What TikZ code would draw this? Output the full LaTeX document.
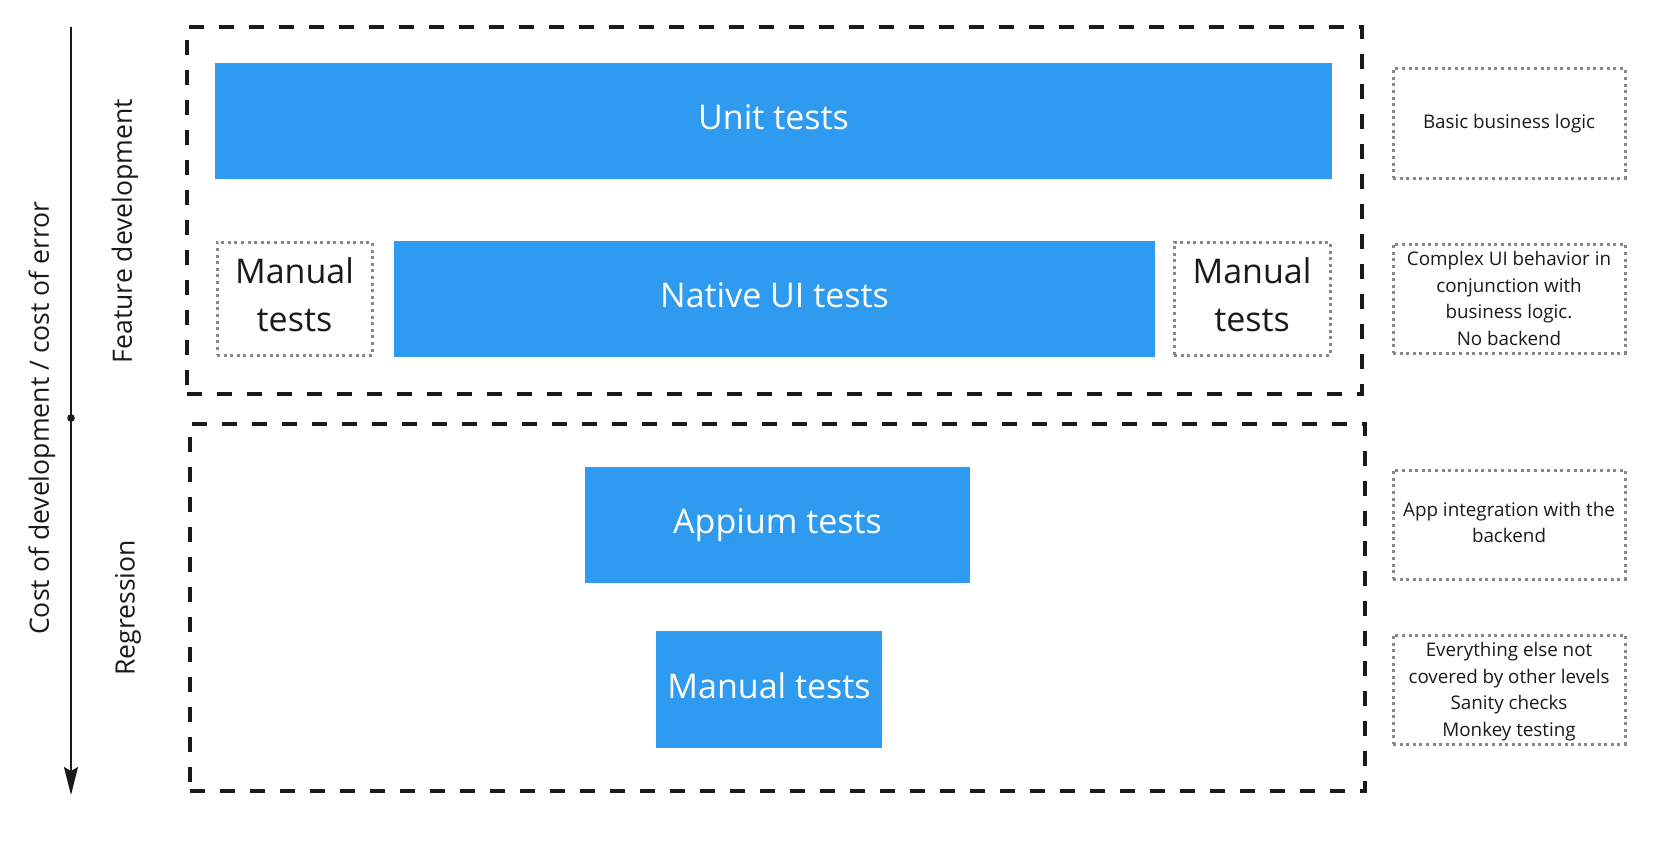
\documentclass[tikz,border=0pt]{standalone}
\usepackage{fontspec}
\setmainfont{Open Sans}
\usetikzlibrary{arrows.meta}
\definecolor{tblue}{RGB}{46,155,240}
\definecolor{tdark}{RGB}{26,26,26}
\definecolor{tgray}{RGB}{136,136,136}
\tikzset{
  bluebox/.style={rectangle, fill=tblue, draw=none, inner sep=0pt, text=white,
    font=\fontsize{34}{48}\selectfont, align=center, text depth=7pt},
  manbox/.style={rectangle, draw=tgray, line width=3pt, dash pattern=on 3pt off 3.6pt,
    inner sep=0pt, text=tdark, font=\fontsize{34}{48}\selectfont, align=center, text depth=7pt},
  infobox/.style={rectangle, draw=tgray, line width=3pt, dash pattern=on 3pt off 3.6pt,
    inner sep=0pt, text=tdark, font=\fontsize{18.8}{26.5}\selectfont, align=center,
    minimum width=232pt, minimum height=109pt},
  groupbox/.style={rectangle, draw=tdark, line width=3.5pt, dash pattern=on 15pt off 15pt,
    inner sep=0pt, fill=none},
  sidelabel/.style={rotate=90, text=tdark, font=\fontsize{26.6}{32}\selectfont, inner sep=0pt},
}
\begin{document}
\begin{tikzpicture}[x=1pt,y=-1pt]
\useasboundingbox[fill=white] (0,0) rectangle (1675,859);
% group boxes
\node[groupbox, minimum width=1175pt, minimum height=367pt] (feat) at (774.5,210.5) {};
\node[groupbox, minimum width=1175pt, minimum height=367pt] (regr) at (777.5,607.5) {};
% blue boxes
\node[bluebox, minimum width=1117pt, minimum height=116pt] (unit) at (773.5,121) {Unit tests};
\node[bluebox, minimum width=761pt, minimum height=116pt] (native) at (774.5,299) {Native UI tests};
\node[bluebox, minimum width=385pt, minimum height=116pt] (appium) at (777.5,525) {Appium tests};
\node[bluebox, minimum width=226pt, minimum height=117pt] (manual) at (769,689.5) {Manual tests};
% manual dotted boxes
\node[manbox, minimum width=155pt, minimum height=113pt] (manL) at (294.5,298.5) {Manual\\tests};
\node[manbox, minimum width=156pt, minimum height=113pt] (manR) at (1252,298.5) {Manual\\tests};
% info boxes
\node[infobox] (info1) at (1509,123.5) {Basic business logic};
\node[infobox] (info2) at (1509,298.5) {Complex UI behavior in\\conjunction with\\business logic.\\No backend};
\node[infobox, text depth=4pt] (info3) at (1509,524.5) {App integration with the\\backend};
\node[infobox, text depth=0pt] (info4) at (1509,689.5) {Everything else not\\covered by other levels\\Sanity checks\\Monkey testing};
% side labels
\node[sidelabel] (lfeat) at (125,231) {Feature development};
\node[sidelabel] (lregr) at (128,608) {Regression};
\node[sidelabel] (lcost) at (42,418) {Cost of development / cost of error};
% axis arrow
\coordinate (atop) at (71,27);
\coordinate (amid) at (71,418);
\coordinate (abot) at (71,795);
\draw[tdark, line width=2pt, -{Stealth[length=28pt,width=14pt,inset=4pt]}] (atop) -- (abot);
\fill[tdark] (amid) circle (3.8pt);
\end{tikzpicture}
\end{document}
